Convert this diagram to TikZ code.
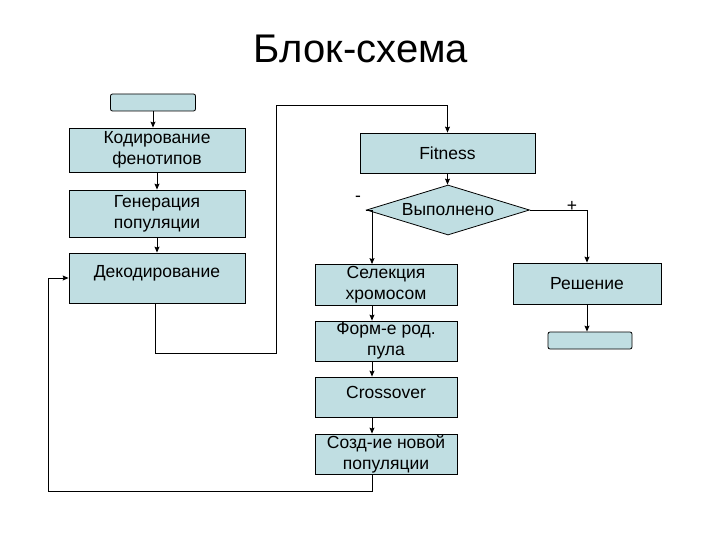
\documentclass[tikz,border=0pt]{standalone}
\usepackage{fontspec}
\setmainfont{Liberation Sans}
\usepackage{tikz}
\usetikzlibrary{arrows.meta,shapes.geometric}
\definecolor{blockfill}{RGB}{192,222,226}

\begin{document}
\begin{tikzpicture}[x=1pt,y=-1pt,->,>={Stealth[length=6pt,width=5pt,inset=1pt]},line width=0.9pt,
  font=\fontsize{17.5}{21}\selectfont,
  block/.style={rectangle,draw,fill=blockfill,align=center,inner sep=0pt,line width=0.8pt},
  term/.style={rectangle,rounded corners=2pt,draw,fill=blockfill,inner sep=0pt,line width=0.8pt,
    minimum height=17pt}]

  \useasboundingbox (0,0) rectangle (720,540);

  \node[font=\fontsize{40}{48}\selectfont,anchor=base] (title) at (361,63) {Блок-схема};

  % left column
  \node[term,minimum width=85pt] (start) at (153,102.5) {};
  \node[block,minimum width=176pt,minimum height=44pt] (kod) at (157,150) {Кодирование\\фенотипов};
  \node[block,minimum width=176pt,minimum height=47pt] (gen) at (157,213.5) {Генерация\\популяции};
  \node[block,minimum width=176pt,minimum height=50pt,text depth=14pt] (dek) at (157,278) {Декодирование};

  % middle column
  \node[block,minimum width=175pt,minimum height=40pt] (fit) at (447.5,153) {Fitness};
  \node[diamond,draw,fill=blockfill,inner sep=0pt,aspect=3.26,minimum width=163pt,
    minimum height=50pt,line width=0.8pt] (vyp) at (448,210) {Выполнено};
  \node[block,minimum width=142pt,minimum height=41pt] (sel) at (386,285) {Селекция\\хромосом};
  \node[block,minimum width=142pt,minimum height=40pt] (form) at (386,341) {Форм-е род.\\пула};
  \node[block,minimum width=142pt,minimum height=40pt,text depth=10pt] (cross) at (386,397) {Crossover};
  \node[block,minimum width=142pt,minimum height=40pt] (sozd) at (386,454) {Созд-ие новой\\популяции};

  % right column
  \node[block,minimum width=148pt,minimum height=41pt] (resh) at (587,283.5) {Решение};
  \node[term,minimum width=84pt] (end) at (590,340.5) {};

  \node (minus) at (358,199) {-};
  \node (plus) at (572,206) {+};

  \coordinate (colB) at (372,0);
  \coordinate (jumpL) at (155,353);
  \coordinate (jumpR) at (276,353);
  \coordinate (jumpT) at (276,105);
  \coordinate (loopL) at (48,491);

  \path
    (start) edge (start.south |- kod.north)
    (kod) edge (gen)
    (gen) edge (dek)
    (fit) edge (vyp.north -| fit.south)
    (sel.south -| colB) edge (form.north -| colB)
    (form.south -| colB) edge (cross.north -| colB)
    (cross.south -| colB) edge (sozd.north -| colB)
    (resh.south) edge (resh.south |- end.north);

  \draw (vyp.west) -| (sel.north -| colB);
  \draw (vyp.east) -| (resh.north);
  \draw (jumpL |- dek.south) -- (jumpL) -- (jumpR) -- (jumpT) -| (fit.north);
  \draw (sozd.south -| colB) |- (loopL) |- (dek.west);
\end{tikzpicture}
\end{document}
